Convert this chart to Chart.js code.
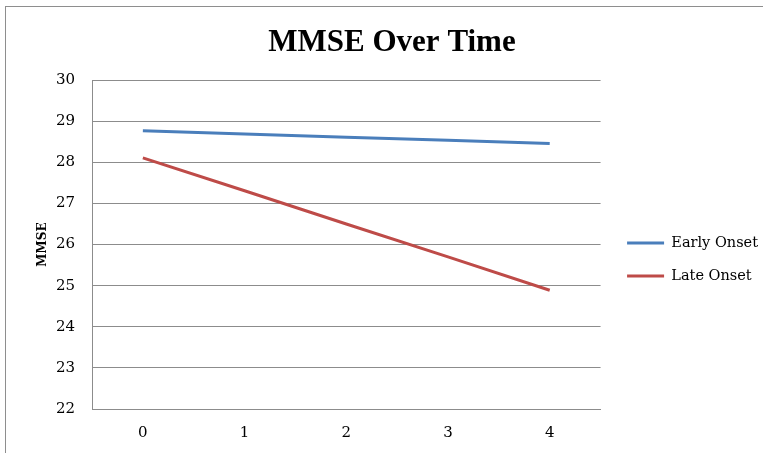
<!DOCTYPE html>
<html>
<head>
<meta charset="utf-8">
<script src="https://cdn.jsdelivr.net/npm/chart.js@4.4.1/dist/chart.umd.min.js"></script>
<style>
  html, body { margin: 0; padding: 0; background: #fff; }
  #marco { position: absolute; left: 5px; top: 6px; width: 800px; height: 470px; border: 1px solid #8e8e8e; }
  #wrap { position: absolute; left: 0; top: 0; width: 763px; height: 453px; }
</style>
</head>
<body>
<div id="marco"></div>
<div id="wrap"><canvas id="mmseChart" width="763" height="453"></canvas></div>
<script>
// 1. Data
const years = ['0', '1', '2', '3', '4'];
const earlyOnset = [28.77, 28.69, 28.61, 28.54, 28.46];
const lateOnset = [28.11, 27.31, 26.50, 25.70, 24.89];
const yTicks = [22, 23, 24, 25, 26, 27, 28, 29, 30];

const BLUE = '#4A7EBB';
const RED = '#BE4B48';
const GRID = '#8c8c8c';

// nudge the legend box to where the original sits (a bit lower and right)
const legendNudge = {
  id: 'legendNudge',
  afterLayout(chart) {
    const lg = chart.legend;
    lg.top += 33; lg.bottom += 33;
    lg.left += 8; lg.right += 8;
  }
};

// 2. Chart
function initChart() {
  const ctx = document.getElementById('mmseChart').getContext('2d');

  new Chart(ctx, {
    type: 'line',
    data: {
      labels: years,
      datasets: [
        { label: 'Early Onset', data: earlyOnset, borderColor: BLUE, backgroundColor: BLUE, borderWidth: 3, pointRadius: 0, tension: 0 },
        { label: 'Late Onset', data: lateOnset, borderColor: RED, backgroundColor: RED, borderWidth: 3, pointRadius: 0, tension: 0 }
      ]
    },
    plugins: [legendNudge],
    options: {
      responsive: false,
      animation: false,
      layout: { padding: { left: 24, right: 3, top: 0, bottom: 0 } },
      plugins: {
        title: {
          display: true,
          text: 'MMSE Over Time',
          color: '#000',
          font: { family: 'Liberation Serif', size: 31, weight: 'bold' },
          padding: { top: 24, bottom: 19 }
        },
        legend: {
          position: 'right',
          labels: {
            color: '#000',
            font: { family: 'DejaVu Serif', size: 14.5 },
            boxWidth: 37,
            boxHeight: 3,
            padding: 18.5,
            generateLabels: chart => Chart.defaults.plugins.legend.labels.generateLabels(chart).map(l => {
              l.fillStyle = l.strokeStyle;
              l.lineWidth = 0;
              return l;
            })
          }
        },
        tooltip: { enabled: false }
      },
      scales: {
        x: {
          offset: true,
          afterFit: s => { s.height = 44; },
          grid: { display: false, drawTicks: false },
          border: { color: GRID, width: 1 },
          ticks: { color: '#000', font: { family: 'DejaVu Serif', size: 15 }, padding: 15 }
        },
        y: {
          min: 22,
          max: 30,
          afterBuildTicks: axis => { axis.ticks = yTicks.map(v => ({ value: v })); },
          afterFit: s => { s.width = 68; },
          grid: { color: GRID, drawTicks: false },
          border: { color: GRID, width: 1 },
          title: { display: true, text: 'MMSE', color: '#000', font: { family: 'DejaVu Serif', size: 12, weight: 'bold' }, padding: { top: 12, bottom: 0 } },
          ticks: { color: '#000', font: { family: 'DejaVu Serif', size: 15 }, padding: 17 }
        }
      }
    }
  });
}

initChart();
</script>
</body>
</html>
